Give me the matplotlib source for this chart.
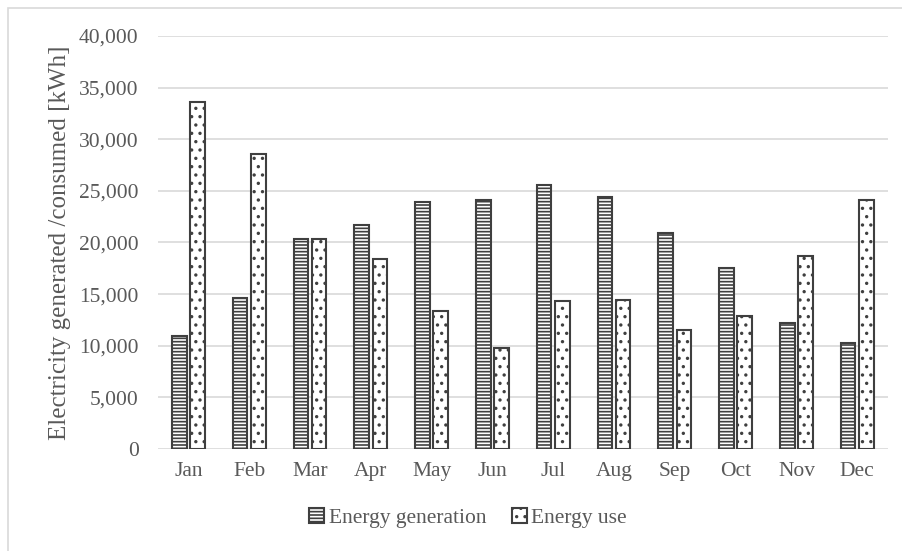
import numpy as np
import matplotlib
matplotlib.use("Agg")
from matplotlib import pyplot as plt
from matplotlib.patches import Rectangle
from matplotlib.ticker import FuncFormatter

months = ['Jan', 'Feb', 'Mar', 'Apr', 'May', 'Jun',
          'Jul', 'Aug', 'Sep', 'Oct', 'Nov', 'Dec']
generation = [10900, 14650, 20300, 21700, 23950, 24100,
              25600, 24450, 20950, 17550, 12250, 10250]
use = [33600, 28550, 20350, 18450, 13400, 9750,
       14300, 14450, 11550, 12900, 18650, 24100]

plt.rcParams['font.family'] = ['Liberation Serif', 'DejaVu Serif']
plt.rcParams['hatch.linewidth'] = 1.2

grey = '#595959'
edge = '#3f3f3f'

fig = plt.figure(figsize=(9.03, 5.51), dpi=100)
ax = fig.add_axes([0.175, 0.185, 0.808, 0.7498])

x = np.arange(len(months))
w = 0.24
gap = 0.03
ax.bar(x - w/2 - gap, generation, w, facecolor='white', edgecolor=edge,
       hatch='-----', lw=1.5, label='Energy generation', zorder=3)
ax.bar(x + w/2 + gap, use, w, facecolor='white', edgecolor=edge,
       hatch='..', lw=1.5, label='Energy use', zorder=3)

ax.set_xlim(-0.5, 11.5)
ax.set_ylim(0, 40000)
ax.set_yticks(np.arange(0, 40001, 5000))
ax.yaxis.set_major_formatter(FuncFormatter(lambda v, p: f'{int(v):,}'))
ax.set_xticks(x)
ax.set_xticklabels(months)
ax.grid(axis='y', color='#d9d9d9', lw=1.2, zorder=0)
for s in ax.spines.values():
    s.set_visible(False)
ax.tick_params(axis='both', length=0, labelsize=15.5, colors=grey)
ax.tick_params(axis='y', pad=14)
ax.tick_params(axis='x', pad=9)

ax.set_ylabel('Electricity generated /consumed [kWh]', fontsize=18,
              color=grey, labelpad=6)

ax.legend(loc='upper center', bbox_to_anchor=(0.425, -0.095), ncol=2,
          frameon=False, fontsize=15.5, labelcolor=grey,
          handlelength=0.7, handleheight=0.7, handletextpad=0.2,
          columnspacing=1.2)

# thin frame around the chart
fig.patches.append(Rectangle((8/903, -0.1), 1.2, 1 - 8/551 + 0.1,
                             transform=fig.transFigure, fill=False,
                             edgecolor='#d9d9d9', lw=1.2))

fig.savefig('out.png', dpi=100)
